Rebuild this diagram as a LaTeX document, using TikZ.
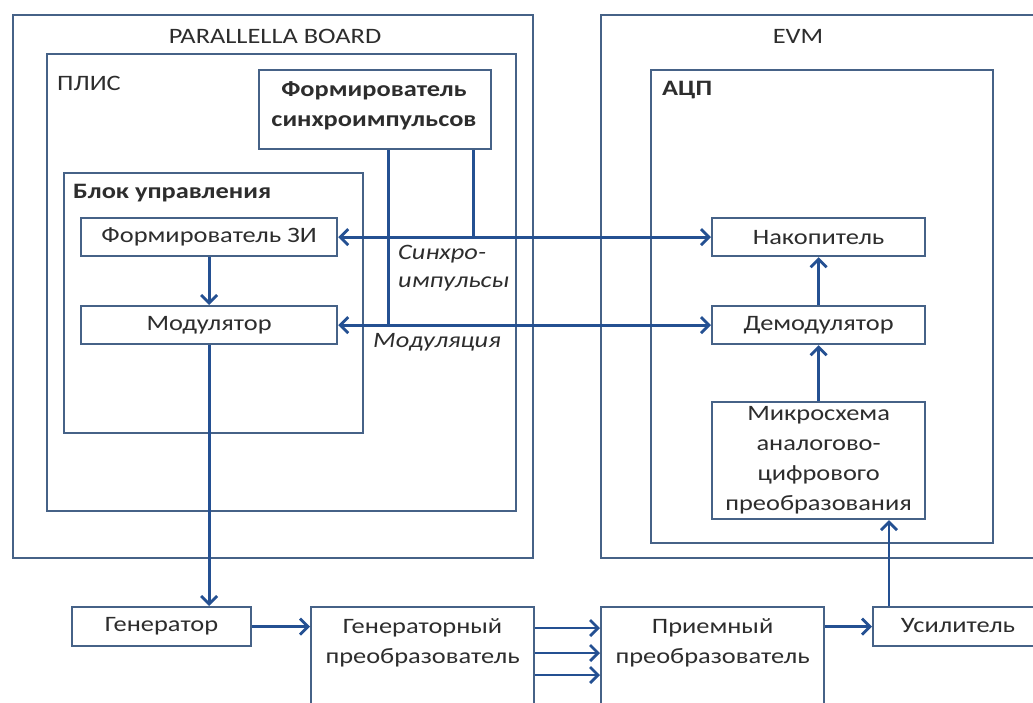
\documentclass[tikz,border=0pt]{standalone}
\usepackage{fontspec}
\setmainfont{Carlito}[FakeStretch=1.2]
\usetikzlibrary{arrows.meta,calc}
\definecolor{framecol}{RGB}{70,98,135}
\definecolor{wirecol}{RGB}{36,80,146}
\definecolor{txtcol}{RGB}{45,45,45}
\tikzset{
  blk/.style={draw=framecol, line width=2.2pt, rectangle, anchor=north west, inner sep=0pt},
  wire/.style={draw=wirecol, line width=2.8pt},
  tip/.tip={Straight Barb[length=8pt,width=16pt]},
  arr/.style={wire, -tip},
  biarr/.style={wire, tip-tip},
  lbl/.style={text=txtcol, font=\fontsize{22}{30}\selectfont, align=center, inner sep=0pt},
  lblb/.style={lbl, font=\fontsize{22}{30}\selectfont\bfseries},
  lbli/.style={lbl, font=\fontsize{22}{28}\selectfont\itshape, align=left, anchor=west},
}
\begin{document}
\begin{tikzpicture}[x=1pt,y=-1pt]
\useasboundingbox[fill=white] (0,0) rectangle (1033,702);

% outer boards
\node[blk, minimum width=520pt, minimum height=543pt] (pb) at (12,14) {};
\node[lbl] (pbt) at (275,36) {PARALLELLA BOARD};
\node[blk, minimum width=440pt, minimum height=543pt] (evm) at (600,14) {};
\node[lbl] (evmt) at (798,36) {EVM};

% FPGA
\node[blk, minimum width=469pt, minimum height=457pt] (plis) at (46,53) {};
\node[lbl, anchor=west] (plist) at (57,83) {ПЛИС};
\node[blk, minimum width=232pt, minimum height=79pt] (sync) at (258,69) {};
\node[lblb] (synct) at (374,106) {Формирователь\\синхроимпульсов};

% control block
\node[blk, minimum width=299pt, minimum height=260pt] (bu) at (63,172) {};
\node[lblb, anchor=west] (but) at (73,193) {Блок управления};
\node[blk, minimum width=256pt, minimum height=38pt] (fzi) at (80,217) {};
\node[lbl] at (fzi.center) {Формирователь ЗИ};
\node[blk, minimum width=256pt, minimum height=38pt] (mod) at (80,305) {};
\node[lbl] at (mod.center) {Модулятор};

% ADC
\node[blk, minimum width=342pt, minimum height=473pt] (adc) at (650,69) {};
\node[lblb, anchor=west] (adct) at (662,90) {АЦП};
\node[blk, minimum width=213pt, minimum height=38pt] (nak) at (711,217) {};
\node[lbl] at (nak.center) {Накопитель};
\node[blk, minimum width=213pt, minimum height=38pt] (dem) at (711,305) {};
\node[lbl] at (dem.center) {Демодулятор};
\node[blk, minimum width=213pt, minimum height=117pt] (mic) at (711,401) {};
\node[lbl] at (mic.center) {Микросхема\\аналогово-\\цифрового\\преобразования};

% bottom chain
\node[blk, minimum width=179pt, minimum height=39pt] (gen) at (71,606) {};
\node[lbl] at (gen.center) {Генератор};
\node[blk, minimum width=223pt, minimum height=120pt] (genp) at (310,606) {};
\node[lbl, anchor=north] at ([yshift=-12pt]genp.north) {Генераторный\\преобразователь};
\node[blk, minimum width=223pt, minimum height=120pt] (prp) at (600,606) {};
\node[lbl, anchor=north] at ([yshift=-12pt]prp.north) {Приемный\\преобразователь};
\node[blk, minimum width=175pt, minimum height=39pt] (us) at (872,606) {};
\node[lbl] (ust) at (958,626) {Усилитель};

% signal labels
\node[lbli] (synl) at (398,268) {Синхро-\\импульсы};
\node[lbli] (modl) at (373,342) {Модуляция};

% connections
\draw[biarr] (fzi.east) -- (nak.west);
\draw[biarr] (mod.east) -- (dem.west);
\draw[wire] ([xshift=13pt]sync.south) -- ([xshift=13pt]sync.south |- mod.east);
\draw[wire] ([xshift=98pt]sync.south) -- ([xshift=98pt]sync.south |- fzi.east);
\draw[arr] (fzi.south) -- (mod.north);
\draw[arr] (mod.south) -- (mod.south |- gen.north);
\draw[arr] (gen.east) -- (genp.west |- gen.east);
\draw[arr] ([yshift=-22pt]genp.north east) -- ([yshift=-22pt]prp.north west);
\draw[arr] ([yshift=-47pt]genp.north east) -- ([yshift=-47pt]prp.north west);
\draw[arr] ([yshift=-69pt]genp.north east) -- ([yshift=-69pt]prp.north west);
\draw[arr] (prp.east |- us.west) -- (us.west);
\draw[arr] ([xshift=17pt]us.north west) -- ([xshift=17pt]us.north west |- mic.south);
\draw[arr] (mic.north) -- (dem.south);
\draw[arr] (dem.north) -- (nak.south);
\end{tikzpicture}
\end{document}
